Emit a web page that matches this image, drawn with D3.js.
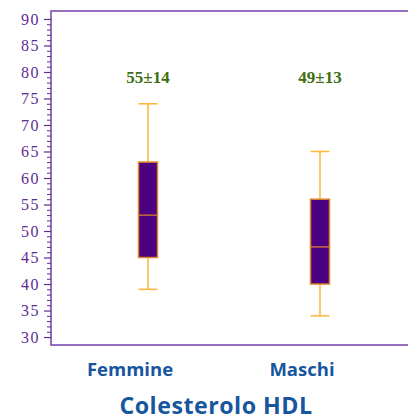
<!DOCTYPE html>
<html><head><meta charset="utf-8">
<script src="https://cdn.jsdelivr.net/npm/d3@7"></script>
<style>body{margin:0;background:#fff}svg{display:block}</style>
</head><body>
<svg id="c" width="408" height="419"></svg>
<script>
const categories = ["Femmine", "Maschi"];
const mins    = [39, 34];
const q1s     = [45, 40];
const medians = [53, 47];
const q3s     = [63, 56];
const maxs    = [74, 65];
const meanLabels = ["55±14", "49±13"];
const yTicks = [30, 35, 40, 45, 50, 55, 60, 65, 70, 75, 80, 85, 90];
const title = "Colesterolo HDL";

(function () {
const svg = d3.select("#c");
const mLeft = 51, mTop = 11, mBottom = 345, mRight = 412;
const y = d3.scaleLinear().domain([28.5, 91.5]).range([mBottom, mTop]);
const x = d3.scalePoint().domain(categories).range([148, 320]);
const boxW = 19;

// frame
svg.append("rect").attr("x", mLeft).attr("y", mTop).attr("width", mRight - mLeft).attr("height", mBottom - mTop)
  .attr("fill", "none").attr("stroke", "#7a4bb0").attr("stroke-width", 1.6);

// y axis minor ticks
const minor = d3.range(30, 91, 1).filter(v => v % 5 !== 0);
const axisColor = "#5e2d91";
const gy = svg.append("g").attr("transform", `translate(${mLeft},0)`);
gy.call(d3.axisLeft(y).tickValues(minor).tickSize(4).tickFormat(""))
  .call(g => g.select(".domain").remove())
  .call(g => g.selectAll("line").attr("stroke", axisColor).attr("stroke-width", 1));
const gy2 = svg.append("g").attr("transform", `translate(${mLeft},0)`);
gy2.call(d3.axisLeft(y).tickValues(yTicks).tickSize(7).tickPadding(4).tickFormat(d3.format("d")))
  .call(g => g.select(".domain").remove())
  .call(g => g.selectAll("line").attr("stroke", axisColor).attr("stroke-width", 1.2))
  .call(g => g.selectAll("text").attr("fill", "#5e2d91")
     .attr("font-family", "Liberation Serif, Times New Roman, serif")
     .attr("font-size", 16).attr("letter-spacing", 1.5));

const whiskerColor = "#ffb43a";
const boxStroke = "#e0862a";
categories.forEach((c, i) => {
  const cx = x(c);
  const g = svg.append("g");
  g.append("line").attr("x1", cx).attr("x2", cx).attr("y1", y(maxs[i])).attr("y2", y(q3s[i]))
    .attr("stroke", whiskerColor).attr("stroke-width", 1.5);
  g.append("line").attr("x1", cx).attr("x2", cx).attr("y1", y(q1s[i])).attr("y2", y(mins[i]))
    .attr("stroke", whiskerColor).attr("stroke-width", 1.5);
  [maxs[i], mins[i]].forEach(v => {
    g.append("line").attr("x1", cx - boxW / 2).attr("x2", cx + boxW / 2).attr("y1", y(v)).attr("y2", y(v))
      .attr("stroke", whiskerColor).attr("stroke-width", 1.5);
  });
  g.append("rect").attr("x", cx - boxW / 2).attr("y", y(q3s[i])).attr("width", boxW)
    .attr("height", y(q1s[i]) - y(q3s[i])).attr("fill", "#4b0082")
    .attr("stroke", boxStroke).attr("stroke-width", 1.5);
  g.append("line").attr("x1", cx - boxW / 2).attr("x2", cx + boxW / 2).attr("y1", y(medians[i])).attr("y2", y(medians[i]))
    .attr("stroke", boxStroke).attr("stroke-width", 1.2);
  svg.append("text").attr("x", cx).attr("y", 83).attr("text-anchor", "middle")
    .attr("font-family", "Liberation Serif, Times New Roman, serif").attr("font-weight", "bold")
    .attr("font-size", 17).attr("fill", "#3f6e12").text(meanLabels[i]);
  svg.append("text").attr("x", cx - 18).attr("y", 376).attr("text-anchor", "middle")
    .attr("font-family", "Open Sans, sans-serif").attr("font-weight", "bold")
    .attr("font-size", 18.5).attr("fill", "#17569e").text(c);
});

svg.append("text").attr("x", 216).attr("y", 413.5).attr("text-anchor", "middle")
  .attr("font-family", "Open Sans, sans-serif").attr("font-weight", "bold")
  .attr("font-size", 23.2).attr("letter-spacing", 0.5).attr("fill", "#17569e").text(title);
})();
</script>
</body></html>
